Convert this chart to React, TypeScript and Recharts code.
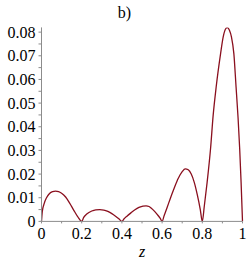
import React from 'react'
import { LineChart, Line, XAxis, YAxis, Label } from 'recharts'

// values (|f(z)|, zeros at every 0.2)
const zValues = [
  0, 0.004, 0.012, 0.025, 0.04, 0.055, 0.07, 0.085, 0.1, 0.12, 0.14, 0.16, 0.18,
  0.2, 0.21, 0.225, 0.25, 0.27, 0.29, 0.31, 0.33, 0.35, 0.37, 0.385,
  0.4, 0.41, 0.425, 0.445, 0.465, 0.485, 0.505, 0.52, 0.535, 0.55, 0.565, 0.58, 0.59,
  0.6, 0.61, 0.625, 0.64, 0.66, 0.68, 0.7, 0.715, 0.73, 0.745, 0.76, 0.775, 0.79,
  0.8, 0.81, 0.824, 0.841, 0.854, 0.869, 0.891, 0.904, 0.915, 0.924, 0.935, 0.945,
  0.957, 0.968, 0.978, 0.986, 0.993, 1,
]
const fValues = [
  0, 0.0042, 0.0072, 0.01, 0.0118, 0.0126, 0.0128, 0.0126, 0.0119, 0.0103, 0.0077, 0.0048, 0.002,
  0, 0.0017, 0.0031, 0.0044, 0.0049, 0.005, 0.0048, 0.0042, 0.0033, 0.0021, 0.0011,
  0, 0.001, 0.0022, 0.0036, 0.0049, 0.0059, 0.0065, 0.0066, 0.0063, 0.0053, 0.004, 0.0025, 0.0014,
  0, 0.0024, 0.0059, 0.0095, 0.014, 0.0181, 0.021, 0.0222, 0.0218, 0.02, 0.0165, 0.0113, 0.005,
  0, 0.0065, 0.0165, 0.0307, 0.0448, 0.0568, 0.0709, 0.078, 0.0812, 0.0819, 0.0808, 0.078,
  0.0709, 0.0568, 0.0437, 0.0307, 0.0165, 0,
]

const xTicks = [0, 0.1, 0.2, 0.3, 0.4, 0.5, 0.6, 0.7, 0.8, 0.9, 1]
const xLabels = ['0', '', '0.2', '', '0.4', '', '0.6', '', '0.8', '', '1']
const yTicks = [
  0, 0.005, 0.01, 0.015, 0.02, 0.025, 0.03, 0.035, 0.04, 0.045, 0.05, 0.055, 0.06, 0.065, 0.07, 0.075, 0.08,
]
const yLabels = [
  '0', '', '0.01', '', '0.02', '', '0.03', '', '0.04', '', '0.05', '', '0.06', '', '0.07', '', '0.08',
]

const data = zValues.map((z, i) => ({ z, f: fValues[i] }))

const FONT = '"Liberation Serif", "Times New Roman", serif'
const AXIS = '#8c8c8c'
const CURVE = '#8a0f1e'

const tickStyle = { fill: '#000', fontSize: 16, fontFamily: FONT }

export default function App() {
  return (
    <div style={{ position: 'absolute', left: 0, top: 0, width: 249, height: 265, background: '#fff' }}>
      <div
        style={{
          position: 'absolute',
          left: 0,
          width: 249,
          top: 5,
          textAlign: 'center',
          fontFamily: FONT,
          fontSize: 16,
          lineHeight: '16px',
          color: '#000',
        }}
      >
        b)
      </div>
      <LineChart width={249} height={265} data={data} margin={{ top: 27.4, right: 6.5, bottom: 0, left: 0 }}>
        <XAxis
          dataKey="z"
          type="number"
          domain={[0, 1]}
          ticks={xTicks}
          tickFormatter={(v: number) => xLabels[xTicks.indexOf(v)] ?? ''}
          tick={tickStyle}
          tickSize={2}
          tickMargin={4}
          stroke={AXIS}
          height={43.6}
          interval={0}
        >
          <Label
            value="z"
            position="insideBottom"
            offset={8}
            style={{ fill: '#000', fontSize: 16, fontFamily: FONT, fontStyle: 'italic' }}
          />
        </XAxis>
        <YAxis
          type="number"
          domain={[0, 0.082]}
          ticks={yTicks}
          tickFormatter={(v: number) => yLabels[yTicks.indexOf(v)] ?? ''}
          tick={tickStyle}
          tickSize={3}
          tickMargin={3}
          stroke={AXIS}
          width={41.5}
          interval={0}
          allowDataOverflow
        />
        <Line
          type="monotone"
          dataKey="f"
          stroke={CURVE}
          strokeWidth={1.3}
          dot={false}
          isAnimationActive={false}
        />
      </LineChart>
    </div>
  )
}
